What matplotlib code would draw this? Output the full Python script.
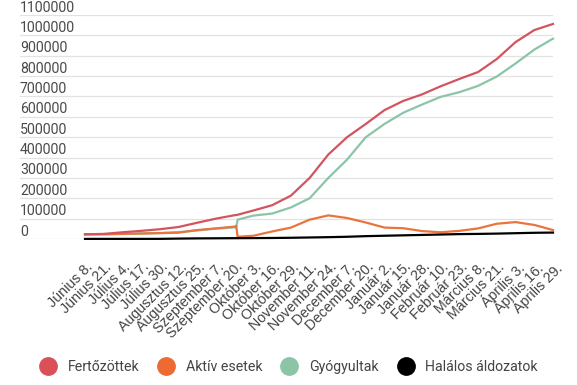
import matplotlib
matplotlib.use("Agg")
import matplotlib.pyplot as plt
import matplotlib.dates as mdates
import matplotlib.transforms as mtransforms
from matplotlib.lines import Line2D
import datetime as dt

# ---- data ----
dates = ["2020-06-08", "2020-06-21", "2020-07-04", "2020-07-17", "2020-07-30",
         "2020-08-12", "2020-08-25", "2020-09-07", "2020-09-20", "2020-09-21",
         "2020-09-22", "2020-10-03", "2020-10-16", "2020-10-29", "2020-11-11",
         "2020-11-24", "2020-12-07", "2020-12-20", "2021-01-02", "2021-01-15",
         "2021-01-28", "2021-02-10", "2021-02-23", "2021-03-08", "2021-03-21",
         "2021-04-03", "2021-04-16", "2021-04-29"]

infected = [23000, 25000, 33000, 40000, 48000, 59000, 80000, 100000, 117000, 118000,
            119000, 140000, 166000, 213000, 300000, 415000, 500000, 565000, 633000, 678000,
            710000, 750000, 786000, 820000, 884000, 967000, 1026000, 1056000]

active = [23000, 23000, 25000, 27000, 29000, 31000, 44000, 52000, 61000, 64000,
          11000, 16000, 37000, 56000, 95000, 116000, 103000, 81000, 56000, 53000,
          39000, 33000, 40000, 52000, 75000, 83000, 69000, 44000]

recovered = [23000, 24000, 25000, 27000, 29000, 34000, 42000, 51000, 57000, 58000,
             95000, 115000, 125000, 155000, 200000, 300000, 390000, 500000, 565000, 620000,
             660000, 698000, 721000, 752000, 798000, 862000, 930000, 984000]

deaths = [500, 600, 600, 600, 700, 2000, 3000, 3500, 4000, 4000,
          4000, 4500, 5000, 6000, 7500, 9000, 11000, 14000, 16000, 18000,
          20000, 22000, 24000, 25000, 26500, 28500, 30500, 31500]

tick_labels = ["Június 8.", "Június 21.", "Július 4.", "Július 17.", "Július 30.",
               "Augusztus 12.", "Augusztus 25.", "Szeptember 7.", "Szeptember 20.",
               "Október 3.", "Október 16.", "Október 29.", "November 11.",
               "November 24.", "December 7.", "December 20.", "Január 2.",
               "Január 15.", "Január 28.", "Február 10.", "Február 23.",
               "Március 8.", "Március 21.", "Április 3.", "Április 16.", "Április 29."]

y_ticks = [0, 100000, 200000, 300000, 400000, 500000, 600000, 700000,
           800000, 900000, 1000000, 1100000]

series_names = ["Fertőzöttek", "Aktív esetek", "Gyógyultak", "Halálos áldozatok"]
line_colors = ["#d3545f", "#e9743d", "#8cc4a8", "#000000"]
legend_colors = ["#d9505b", "#ee6a33", "#8cc5a5", "#000000"]

# ---- figure ----
W, H = 577, 385
fig = plt.figure(figsize=(W / 100, H / 100), dpi=100)
left_px, right_px, top_px, bottom_px = 20, 553, 15, 239
ax = fig.add_axes([left_px / W, 1 - bottom_px / H,
                   (right_px - left_px) / W, (bottom_px - top_px) / H])

x = [dt.datetime.strptime(d, "%Y-%m-%d") for d in dates]
start = x[0]
end = x[-1]
span_days = (end - start).days
px_per_day = (right_px - 85) / span_days
left_pad = (85 - left_px) / px_per_day
ax.set_xlim(mdates.date2num(start) - left_pad, mdates.date2num(end))
ax.set_ylim(0, 1100000)

order = [(deaths, line_colors[3], 4), (recovered, line_colors[2], 2),
         (active, line_colors[1], 3), (infected, line_colors[0], 3)]
for vals, c, z in order:
    ax.plot(x, vals, color=c, lw=1.6, clip_on=False, zorder=z,
            solid_joinstyle="round")

# grid
for yv in y_ticks:
    ax.axhline(yv, color="#e2e2e2", lw=0.9, zorder=0)
ax.set_yticks([])
trans = mtransforms.offset_copy(ax.get_yaxis_transform(), fig=fig, x=0, y=0.5, units="dots")
for yv in y_ticks:
    ax.text(0.0, yv, f"{yv}", transform=trans, ha="left", va="bottom",
            fontsize=10.2, color="#4a4a4a", family="Roboto")

for s in ax.spines.values():
    s.set_visible(False)

tick_dates = [start + dt.timedelta(days=13 * i) for i in range(len(tick_labels))]
ax.set_xticks(tick_dates)
ax.set_xticklabels(tick_labels, rotation=45, ha="right", va="top",
                   rotation_mode="anchor", fontsize=10.3, color="#444444",
                   family="Liberation Sans")
ax.tick_params(axis="x", length=0, pad=15)
for lab in ax.get_xticklabels():
    lab.set_transform(lab.get_transform() + mtransforms.ScaledTranslation(1 / 100, 0, fig.dpi_scale_trans))

handles = [Line2D([], [], marker="o", ls="none", markersize=12.5,
                  markerfacecolor=c, markeredgecolor=c) for c in legend_colors]
fig.legend(handles, series_names, loc="center", bbox_to_anchor=(0.5, 1 - 367 / H),
           ncol=4, frameon=False, handletextpad=0.8, columnspacing=1.3,
           prop={"family": "Roboto", "size": 10.2}, labelcolor="#444444",
           handlelength=1.2)

fig.savefig("out.png", dpi=100)
